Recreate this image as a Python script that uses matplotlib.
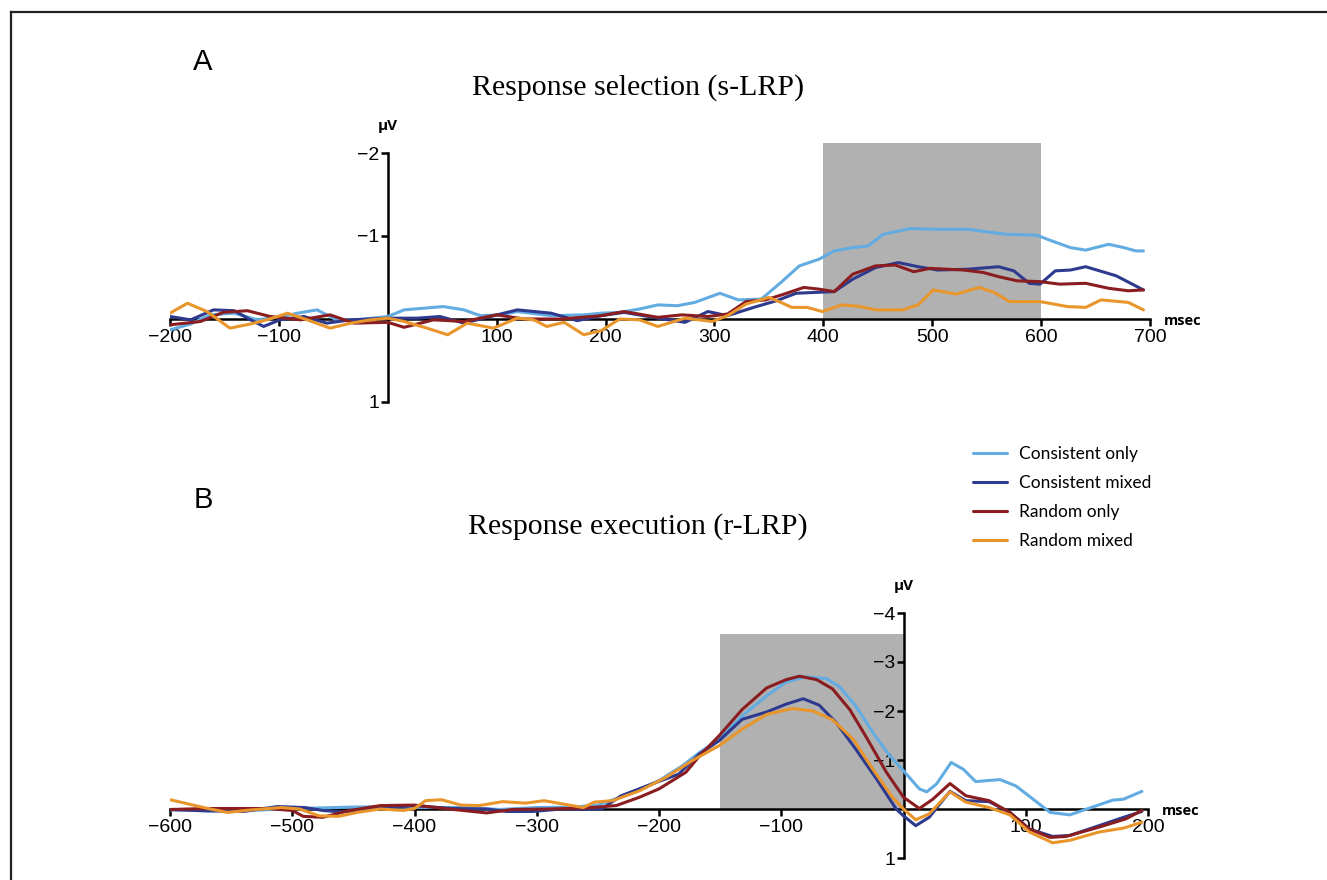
import matplotlib
matplotlib.use("Agg")
import matplotlib.pyplot as plt
from matplotlib.lines import Line2D

# ---- data: panel A, stimulus-locked LRP ----
a_t_cons_only = [-200, -181, -163, -141, -120, -96, -83, -65, -47, -28, 0, 15, 33, 51, 70, 85, 104, 119, 150,
                 180, 196, 213, 231, 248, 266, 282, 305, 322, 343, 361, 378, 396, 410, 427, 441, 455, 480, 505,
                 533, 568, 596, 610, 627, 641, 662, 676, 687, 694]
a_v_cons_only = [0.13, 0.06, -0.05, -0.07, 0.01, -0.03, -0.07, -0.11, 0.01, 0.01, -0.03, -0.11, -0.13, -0.15,
                 -0.11, -0.04, -0.05, -0.09, -0.04, -0.05, -0.07, -0.08, -0.12, -0.17, -0.16, -0.20, -0.31,
                 -0.23, -0.24, -0.44, -0.64, -0.72, -0.82, -0.86, -0.88, -1.02, -1.09, -1.08, -1.08, -1.02,
                 -1.01, -0.94, -0.86, -0.83, -0.90, -0.86, -0.82, -0.82]

a_t_cons_mixed = [-200, -181, -160, -141, -126, -114, -99, -77, -56, -34, 0, 27, 48, 70, 88, 119, 150, 174, 196,
                  217, 248, 273, 294, 312, 336, 357, 375, 392, 410, 427, 448, 469, 487, 505, 533, 561, 575, 589,
                  599, 613, 627, 641, 669, 694]
a_v_cons_mixed = [-0.03, 0.01, -0.11, -0.10, 0.01, 0.09, 0.01, -0.03, 0.05, 0.01, -0.01, -0.01, -0.03, 0.05,
                  -0.01, -0.11, -0.07, 0.02, -0.04, -0.08, -0.01, 0.04, -0.09, -0.04, -0.14, -0.22, -0.31,
                  -0.32, -0.33, -0.48, -0.62, -0.68, -0.63, -0.59, -0.60, -0.63, -0.58, -0.43, -0.42, -0.58,
                  -0.59, -0.63, -0.52, -0.35]

a_t_rand_only = [-200, -172, -151, -129, -108, -80, -53, -31, 0, 15, 42, 70, 100, 125, 159, 196, 217, 248, 270,
                 294, 312, 329, 347, 364, 382, 396, 410, 427, 448, 466, 483, 498, 529, 547, 561, 578, 599, 617,
                 641, 662, 680, 694]
a_v_rand_only = [0.07, 0.03, -0.08, -0.10, -0.03, 0.01, -0.05, 0.05, 0.04, 0.10, 0.01, 0.03, -0.05, 0.00, 0.00,
                 -0.04, -0.09, -0.02, -0.05, -0.03, -0.06, -0.21, -0.23, -0.30, -0.38, -0.36, -0.33, -0.54,
                 -0.64, -0.65, -0.57, -0.61, -0.59, -0.56, -0.51, -0.46, -0.45, -0.42, -0.43, -0.37, -0.34,
                 -0.35]

a_t_rand_mixed = [-200, -184, -166, -145, -126, -111, -92, -74, -53, -34, -16, 0, 15, 36, 55, 73, 97, 119, 134,
                  146, 162, 180, 196, 213, 231, 248, 273, 298, 312, 329, 350, 361, 371, 385, 399, 417, 434, 448,
                  473, 487, 501, 522, 543, 557, 571, 599, 624, 641, 655, 680, 694]
a_v_rand_mixed = [-0.07, -0.19, -0.09, 0.11, 0.06, 0.01, -0.07, 0.01, 0.11, 0.05, 0.01, -0.01, 0.03, 0.11, 0.19,
                  0.05, 0.11, -0.01, 0.01, 0.09, 0.04, 0.19, 0.14, 0.00, 0.01, 0.09, -0.01, 0.03, -0.04, -0.18,
                  -0.26, -0.20, -0.14, -0.14, -0.09, -0.17, -0.15, -0.11, -0.11, -0.17, -0.35, -0.30, -0.38,
                  -0.32, -0.21, -0.21, -0.15, -0.14, -0.23, -0.20, -0.11]

# ---- data: panel B, response-locked LRP ----
b_t_cons_only = [-600, -570, -540, -510, -480, -450, -420, -390, -360, -330, -300, -270, -250, -225, -200, -181,
                 -167, -151, -132, -112, -96, -80, -63, -52, -39, -25, -11, 0, 13, 19, 27, 39, 49, 59, 79, 92,
                 106, 120, 136, 150, 171, 180, 195]
b_v_cons_only = [0.02, 0.02, 0.04, 0.0, -0.02, -0.04, -0.05, -0.03, -0.03, 0.01, -0.03, -0.04, -0.08, -0.30,
                 -0.58, -0.88, -1.15, -1.42, -1.90, -2.31, -2.59, -2.70, -2.66, -2.49, -2.10, -1.56, -1.08,
                 -0.78, -0.41, -0.35, -0.51, -0.95, -0.81, -0.56, -0.60, -0.47, -0.20, 0.07, 0.12, 0.0, -0.18,
                 -0.20, -0.36]

b_t_cons_mixed = [-600, -570, -540, -512, -490, -475, -460, -430, -400, -370, -341, -325, -303, -280, -247, -231,
                  -209, -184, -167, -151, -132, -112, -96, -82, -69, -55, -39, -22, -6, 0, 10, 21, 38, 51, 70,
                  87, 103, 122, 136, 160, 180, 195]
b_v_cons_mixed = [0.01, 0.04, 0.05, -0.05, -0.03, 0.03, 0.06, -0.01, -0.07, -0.01, 0.0, 0.05, 0.05, 0.0, 0.0,
                  -0.27, -0.48, -0.71, -1.12, -1.39, -1.83, -1.98, -2.14, -2.25, -2.12, -1.76, -1.22, -0.61,
                  0.0, 0.14, 0.34, 0.17, -0.36, -0.17, -0.15, 0.07, 0.41, 0.56, 0.54, 0.34, 0.17, 0.05]

b_t_rand_only = [-600, -570, -520, -500, -491, -475, -455, -428, -400, -372, -341, -320, -290, -260, -235, -216,
                 -200, -178, -167, -151, -132, -112, -96, -85, -71, -58, -44, -31, -14, 0, 13, 24, 38, 51, 70,
                 87, 103, 120, 133, 160, 182, 195]
b_v_rand_only = [0.01, -0.01, -0.01, 0.03, 0.15, 0.17, 0.04, -0.07, -0.08, 0.0, 0.08, 0.01, 0.0, -0.02, -0.07,
                 -0.24, -0.41, -0.75, -1.08, -1.49, -2.03, -2.47, -2.64, -2.71, -2.64, -2.45, -2.03, -1.49,
                 -0.75, -0.24, -0.01, -0.20, -0.52, -0.27, -0.17, 0.07, 0.41, 0.58, 0.56, 0.37, 0.20, 0.03]

b_t_rand_mixed = [-600, -569, -553, -534, -509, -494, -478, -462, -447, -428, -409, -400, -391, -378, -362, -347,
                  -328, -309, -294, -278, -262, -253, -238, -216, -194, -172, -151, -132, -112, -91, -74, -58,
                  -41, -25, -9, 0, 10, 21, 38, 51, 70, 87, 103, 122, 136, 160, 180, 195]
b_v_rand_mixed = [-0.19, -0.01, 0.07, 0.02, -0.03, 0.0, 0.14, 0.15, 0.07, 0.0, 0.03, -0.01, -0.17, -0.19, -0.08,
                  -0.07, -0.15, -0.12, -0.17, -0.10, -0.03, -0.14, -0.17, -0.37, -0.65, -1.0, -1.29, -1.63,
                  -1.93, -2.05, -2.0, -1.82, -1.42, -0.81, -0.24, 0.0, 0.22, 0.10, -0.35, -0.14, -0.03, 0.12,
                  0.47, 0.69, 0.64, 0.47, 0.39, 0.27]

labels = ["Consistent only", "Consistent mixed", "Random only", "Random mixed"]
colors = ["#62ace2", "#2d3a8e", "#8a1d1f", "#e8962c"]

a_xticks = [-200, -100, 100, 200, 300, 400, 500, 600, 700]
a_yticks = [-2, -1, 1]
b_xticks = [-600, -500, -400, -300, -200, -100, 100, 200]
b_yticks = [-4, -3, -2, -1, 1]

a_window = (400, 600, -2.12)
b_window = (-150, 0, -3.57)

W, H = 1327, 880
fig = plt.figure(figsize=(W / 100, H / 100), dpi=100)
plt.rcParams["font.family"] = ["Liberation Sans", "DejaVu Sans"]


def px_axes(x0, x1, y_top, y_bot):
    return fig.add_axes([x0 / W, 1 - y_bot / H, (x1 - x0) / W, (y_bot - y_top) / H])


def style_axes(ax, xlim, ylim, xticks, yticks, window):
    ax.set_xlim(*xlim)
    ax.set_ylim(*ylim)
    ax.patch.set_alpha(0)
    ax.set_axisbelow(True)
    for s in ["top", "right"]:
        ax.spines[s].set_visible(False)
    ax.spines["bottom"].set_position(("data", 0))
    ax.spines["left"].set_position(("data", 0))
    ax.spines["bottom"].set_bounds(xlim[0], xlim[1])
    ax.spines["left"].set_bounds(yticks[0], yticks[-1])
    for s in ["bottom", "left"]:
        ax.spines[s].set_linewidth(1.8)
        ax.spines[s].set_zorder(1.5)
    ax.set_xticks(xticks)
    ax.set_xticklabels([str(v).replace("-", "\u2212") for v in xticks])
    ax.set_yticks(yticks)
    ax.set_yticklabels([str(v).replace("-", "\u2212") for v in yticks])
    ax.tick_params(direction="out", length=5, width=1.8, labelsize=14, pad=2, colors="black")
    ax.tick_params(axis="y", pad=1)
    x0, x1, top = window
    ax.fill_between([x0, x1], 0, top, color="#b1b1b1", lw=0, zorder=0.2)


# panel A
axA = px_axes(170, 1150, 319 - 2.15 * 83, 402)
style_axes(axA, (-200, 700), (1, -2.15), a_xticks, a_yticks, a_window)
a_series = [(a_t_cons_only, a_v_cons_only), (a_t_cons_mixed, a_v_cons_mixed),
            (a_t_rand_only, a_v_rand_only), (a_t_rand_mixed, a_v_rand_mixed)]
for (t, v), c in zip(a_series, colors):
    axA.plot(t, v, color=c, lw=2.2, zorder=2, solid_capstyle="round", solid_joinstyle="round")

# panel B
axB = px_axes(170, 1148, 809 - 4 * 49, 858)
style_axes(axB, (-600, 200), (1, -4), b_xticks, b_yticks, b_window)
b_series = [(b_t_cons_only, b_v_cons_only), (b_t_cons_mixed, b_v_cons_mixed),
            (b_t_rand_only, b_v_rand_only), (b_t_rand_mixed, b_v_rand_mixed)]
handles = []
for (t, v), c, lab in zip(b_series, colors, labels):
    ln, = axB.plot(t, v, color=c, lw=2.2, zorder=2, solid_capstyle="round",
                   solid_joinstyle="round", label=lab)
    handles.append(ln)

# unit labels
for ax, ytop, xend in [(axA, -2, 700), (axB, -4, 200)]:
    ax.annotate("µV", xy=(0, ytop), xytext=(0, 20), textcoords="offset pixels",
                ha="center", va="bottom", fontsize=11, fontweight="bold", family="Open Sans")
    ax.annotate("msec", xy=(xend, 0), xytext=(14, -2), textcoords="offset pixels",
                ha="left", va="center", fontsize=10.5, fontweight="bold", family="Open Sans")

# titles and panel letters
fig.text(638 / W, 1 - 88 / H, "Response selection (s-LRP)", ha="center", va="center",
         fontsize=21.5, family="Liberation Serif")
fig.text(638 / W, 1 - 527 / H, "Response execution (r-LRP)", ha="center", va="center",
         fontsize=21.5, family="Liberation Serif")
fig.text(203 / W, 1 - 62 / H, "A", ha="center", va="center", fontsize=21)
fig.text(203 / W, 1 - 500 / H, "B", ha="center", va="center", fontsize=21)

fig.legend(handles=handles, loc="upper left", bbox_to_anchor=(957 / W, 1 - 430 / H),
           frameon=False, handlelength=2.0, handletextpad=0.65, labelspacing=0.75,
           prop={"family": "Lato", "size": 12.5})

# frame lines at top and left edge
fig.add_artist(Line2D([11 / W, 1], [1 - 12 / H, 1 - 12 / H], color="#222222", lw=1.6))
fig.add_artist(Line2D([11 / W, 11 / W], [0, 1 - 12 / H], color="#222222", lw=1.6))

fig.savefig("out.png", dpi=100)
